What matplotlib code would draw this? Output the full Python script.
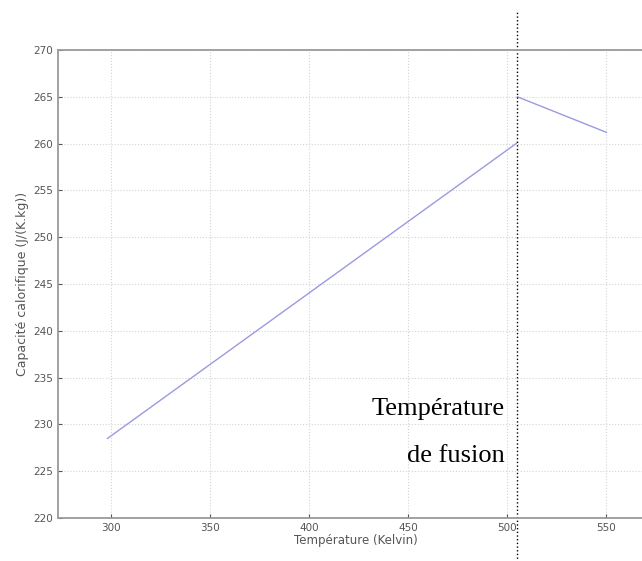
import matplotlib
matplotlib.use("Agg")
import matplotlib.pyplot as plt

# data
temp_solide = [298, 505]
cp_solide = [228.5, 260.1]
temp_liquide = [505, 550]
cp_liquide = [265.0, 261.2]
t_fusion = 505

xticks = [300, 350, 400, 450, 500, 550]
yticks = [220, 225, 230, 235, 240, 245, 250, 255, 260, 265, 270]

fig = plt.figure(figsize=(6.42, 5.61), dpi=100)
ax = fig.add_axes([58 / 642, 43 / 561, 596 / 642, 468 / 561])

ax.plot(temp_solide, cp_solide, color="#9a9ae0", lw=1)
ax.plot(temp_liquide, cp_liquide, color="#9a9ae0", lw=1)

ax.set_xlim(273, 574)
ax.set_ylim(220, 270)
ax.set_xticks(xticks)
ax.set_yticks(yticks)
ax.grid(True, linestyle=":", color="#d4d4d4", lw=0.8)
ax.tick_params(direction="in", length=3, labelsize=7.5, colors="#555555")
for s in ax.spines.values():
    s.set_color("#9a9a9a")
    s.set_linewidth(1.3)

ax.set_xlabel("Température (Kelvin)", fontsize=8.5, color="#555555", labelpad=1)
ax.set_ylabel("Capacité calorifique (J/(K.kg))", fontsize=9, color="#555555", labelpad=3)

# fusion line, sticking out of the axes
ax.axvline(t_fusion, ymin=-0.095, ymax=1.085, color="black", ls=":", lw=1, clip_on=False)

ax.text(498.5, 231.0, "Température", ha="right", va="baseline",
        family="Liberation Serif", fontsize=19)
ax.text(498.5, 226.0, "de fusion", ha="right", va="baseline",
        family="Liberation Serif", fontsize=19)

fig.savefig("out.png", dpi=100)
